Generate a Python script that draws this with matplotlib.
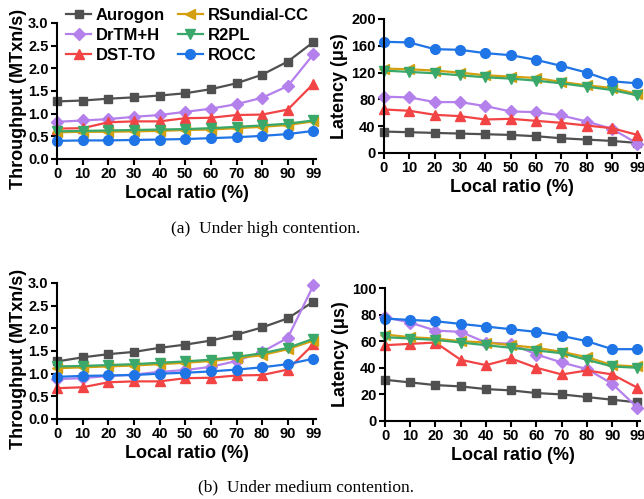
import matplotlib.pyplot as plt

plt.rcParams['font.family'] = ['Liberation Sans', 'DejaVu Sans']
plt.rcParams['font.weight'] = 'bold'

# x categories
ratios = ['0', '10', '20', '30', '40', '50', '60', '70', '80', '90', '99']
names = ['Aurogon', 'DrTM+H', 'DST-TO', 'RSundial-CC', 'R2PL', 'ROCC']
colors = ['#505050', '#b480ec', '#f24444', '#d4a00f', '#3aa86a', '#1f74e6']
markers = ['s', 'D', '^', '<', 'v', 'o']
msizes = [6, 6.5, 7, 7, 7, 7]

# (a) high contention
thr_high_aurogon = [1.27, 1.29, 1.33, 1.36, 1.40, 1.45, 1.54, 1.67, 1.86, 2.15, 2.58]
thr_high_drtm = [0.82, 0.85, 0.88, 0.93, 0.97, 1.04, 1.11, 1.21, 1.35, 1.61, 2.31]
thr_high_dst = [0.67, 0.68, 0.81, 0.83, 0.83, 0.90, 0.91, 0.97, 0.98, 1.09, 1.66]
thr_high_rsun = [0.59, 0.60, 0.60, 0.61, 0.62, 0.64, 0.65, 0.68, 0.71, 0.75, 0.83]
thr_high_r2pl = [0.61, 0.62, 0.63, 0.64, 0.65, 0.66, 0.68, 0.71, 0.74, 0.78, 0.85]
thr_high_rocc = [0.40, 0.41, 0.41, 0.42, 0.43, 0.44, 0.46, 0.48, 0.51, 0.55, 0.62]

lat_high_aurogon = [32, 31, 30, 29, 28, 27, 25, 22, 20, 18, 15]
lat_high_drtm = [84, 83, 76, 76, 70, 62, 61, 56, 47, 36, 14]
lat_high_dst = [65, 63, 57, 55, 50, 51, 48, 45, 41, 37, 27]
lat_high_rsun = [126, 125, 123, 120, 116, 114, 112, 106, 101, 97, 88]
lat_high_r2pl = [123, 121, 119, 116, 113, 111, 108, 104, 99, 94, 86]
lat_high_rocc = [166, 165, 155, 154, 149, 146, 139, 130, 120, 107, 104]

# (b) medium contention
thr_med_aurogon = [1.27, 1.36, 1.43, 1.48, 1.57, 1.64, 1.73, 1.86, 2.02, 2.22, 2.59]
thr_med_drtm = [0.88, 0.90, 0.95, 0.98, 1.04, 1.08, 1.15, 1.28, 1.48, 1.79, 2.95]
thr_med_dst = [0.68, 0.70, 0.81, 0.83, 0.83, 0.90, 0.91, 0.96, 0.97, 1.09, 1.65]
thr_med_rsun = [1.12, 1.14, 1.16, 1.18, 1.21, 1.24, 1.28, 1.34, 1.41, 1.54, 1.73]
thr_med_r2pl = [1.16, 1.17, 1.19, 1.21, 1.24, 1.27, 1.31, 1.37, 1.45, 1.57, 1.77]
thr_med_rocc = [0.93, 0.95, 0.96, 0.97, 1.00, 1.02, 1.05, 1.09, 1.14, 1.21, 1.33]

lat_med_aurogon = [31, 29, 27, 26, 24, 23, 21, 20, 18, 16, 14]
lat_med_drtm = [78, 74, 68, 67, 59, 58, 50, 44, 39, 28, 10]
lat_med_dst = [57, 58, 59, 46, 42, 47, 40, 35, 38, 35, 25]
lat_med_rsun = [65, 63, 62, 60, 59, 57, 55, 52, 48, 42, 41]
lat_med_r2pl = [63, 62, 61, 59, 57, 55, 53, 51, 46, 41, 40]
lat_med_rocc = [77, 76, 75, 73, 71, 69, 67, 64, 60, 54, 54]

W, H = 644, 499
fig = plt.figure(figsize=(W / 100, H / 100), dpi=100)


def box(x0, y0, x1, y1):
    # pixel box -> figure fraction
    return [x0 / W, 1 - y1 / H, (x1 - x0) / W, (y1 - y0) / H]


def draw(ax, series, ylim, yticks, ylabel, fmt):
    xs = list(range(len(ratios)))
    for i, ys in enumerate(series):
        ax.plot(xs, ys, color=colors[i], marker=markers[i], markersize=msizes[i],
                linewidth=1.6, label=names[i], clip_on=False)
    ax.set_xlim(0, 10.1)
    ax.set_ylim(*ylim)
    ax.set_xticks(xs)
    ax.set_xticklabels(ratios, fontweight='bold', fontsize=10.5)
    ax.set_yticks(yticks)
    ax.set_yticklabels([fmt.format(v) for v in yticks], fontweight='bold', fontsize=10.5)
    ax.spines['top'].set_visible(False)
    ax.spines['right'].set_visible(False)
    for s in ['left', 'bottom']:
        ax.spines[s].set_linewidth(1.5)
    ax.tick_params(direction='out', length=4, width=1.5, pad=2)
    ax.set_xlabel('Local ratio (%)', fontsize=13, fontweight='bold', labelpad=3)
    ax.set_ylabel(ylabel, fontsize=13, fontweight='bold', labelpad=2)


ax1 = fig.add_axes(box(57, 23, 316, 159))
draw(ax1, [thr_high_aurogon, thr_high_drtm, thr_high_dst, thr_high_rsun, thr_high_r2pl, thr_high_rocc],
     (0, 3.0), [0, 0.5, 1.0, 1.5, 2.0, 2.5, 3.0], 'Throughput (MTxn/s)', '{:.1f}')

ax2 = fig.add_axes(box(384, 19, 640, 153))
draw(ax2, [lat_high_aurogon, lat_high_drtm, lat_high_dst, lat_high_rsun, lat_high_r2pl, lat_high_rocc],
     (0, 200), [0, 40, 80, 120, 160, 200], 'Latency (\u03bcs)', '{:d}')

ax3 = fig.add_axes(box(57, 283, 316, 419))
draw(ax3, [thr_med_aurogon, thr_med_drtm, thr_med_dst, thr_med_rsun, thr_med_r2pl, thr_med_rocc],
     (0, 3.0), [0, 0.5, 1.0, 1.5, 2.0, 2.5, 3.0], 'Throughput (MTxn/s)', '{:.1f}')

ax4 = fig.add_axes(box(385, 288, 640, 421))
draw(ax4, [lat_med_aurogon, lat_med_drtm, lat_med_dst, lat_med_rsun, lat_med_r2pl, lat_med_rocc],
     (0, 100), [0, 20, 40, 60, 80, 100], 'Latency (\u03bcs)', '{:d}')

# throughput labels sit a little lower than the axis centre
for ax in (ax1, ax3):
    ax.yaxis.set_label_coords(-0.115, 0.44)

leg = ax1.legend(ncol=2, loc='upper left', bbox_to_anchor=(66 / W, 1 - 8 / H),
                 bbox_transform=fig.transFigure, frameon=False,
                 fontsize=12, handlelength=1.5, handletextpad=0.3, columnspacing=0.75,
                 labelspacing=0.3, borderaxespad=0, borderpad=0)
for t in leg.get_texts():
    t.set_fontweight('bold')

fig.text(266 / W, 1 - 229 / H, '(a)  Under high contention.', ha='center', va='center',
         fontsize=12.5, family='Liberation Serif', fontweight='normal')
fig.text(306 / W, 1 - 487 / H, '(b)  Under medium contention.', ha='center', va='center',
         fontsize=12.5, family='Liberation Serif', fontweight='normal')

fig.savefig('out.png', dpi=100)
